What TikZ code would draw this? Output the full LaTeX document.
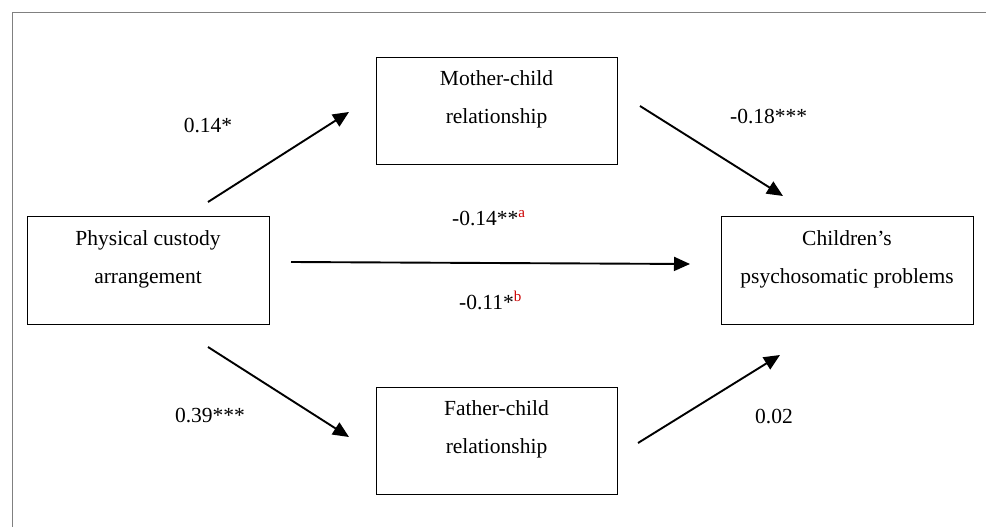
\documentclass[tikz,border=0pt]{standalone}
\usepackage{fontspec}
\setmainfont{Liberation Serif}
\usetikzlibrary{arrows.meta,calc}
\definecolor{framegray}{RGB}{128,128,128}
\definecolor{supred}{RGB}{204,0,0}
\newcommand{\supmark}[1]{\textcolor{supred}{\textsuperscript{#1}}}
\begin{document}
\begin{tikzpicture}[x=1pt,y=-1pt,
  box/.style={draw=black,line width=0.9pt,rectangle,inner sep=0pt},
  boxtext/.style={align=center,inner sep=0pt,font=\fontsize{21.5}{38}\selectfont},
  coef/.style={inner sep=0pt,font=\fontsize{21.5}{26}\selectfont},
  patharrow/.style={line width=1.9pt,-{Triangle[length=16pt,width=14pt]}},
  framestyle/.style={draw=framegray,line width=1pt}]
\useasboundingbox (0,0) rectangle (986,527);
% frame
\coordinate (fTL) at (12.5,13);
\coordinate (fTR) at (986,13);
\coordinate (fBL) at (12.5,527);
\draw[framestyle] (fBL) -- (fTL) -- (fTR);
% boxes
\node[box,minimum width=242pt,minimum height=108pt] (phys) at (148,270) {};
\node[box,minimum width=252pt,minimum height=108pt] (child) at (847,270) {};
\node[box,minimum width=241pt,minimum height=107pt] (mother) at (496.5,110.5) {};
\node[box,minimum width=241pt,minimum height=107pt] (father) at (496.5,440.5) {};
% box texts
\node[boxtext] (physT) at ($(phys.center)+(0,-11)$) {Physical custody\\arrangement};
\node[boxtext] (childT) at ($(child.center)+(0,-11)$) {Children’s\\psychosomatic problems};
\node[boxtext] (motherT) at ($(mother.center)+(0,-11)$) {Mother-child\\relationship};
\node[boxtext] (fatherT) at ($(father.center)+(0,-11)$) {Father-child\\relationship};
% arrow end points
\coordinate (a1s) at (208,202); \coordinate (a1e) at (349,112);
\coordinate (a2s) at (640,106); \coordinate (a2e) at (783,196);
\coordinate (a3s) at (208,347); \coordinate (a3e) at (349,437);
\coordinate (a4s) at (638,443); \coordinate (a4e) at (780,355);
\coordinate (a5s) at (291,262); \coordinate (a5e) at (690,264);
\draw[patharrow] (a1s) -- (a1e);
\draw[patharrow] (a2s) -- (a2e);
\draw[patharrow] (a3s) -- (a3e);
\draw[patharrow] (a4s) -- (a4e);
\draw[patharrow] (a5s) -- (a5e);
% coefficients
\node[coef,anchor=base] (c1) at (208,132) {0.14*};
\node[coef,anchor=base west] (c2) at (730,124) {-0.18***};
\node[coef,anchor=base] (c3) at (210,422) {0.39***};
\node[coef,anchor=base] (c4) at (774,423) {0.02};
\node[coef,anchor=base west] (c5) at (452,225) {-0.14**\supmark{a}};
\node[coef,anchor=base west] (c6) at (459,309) {-0.11*\supmark{b}};
\end{tikzpicture}
\end{document}
